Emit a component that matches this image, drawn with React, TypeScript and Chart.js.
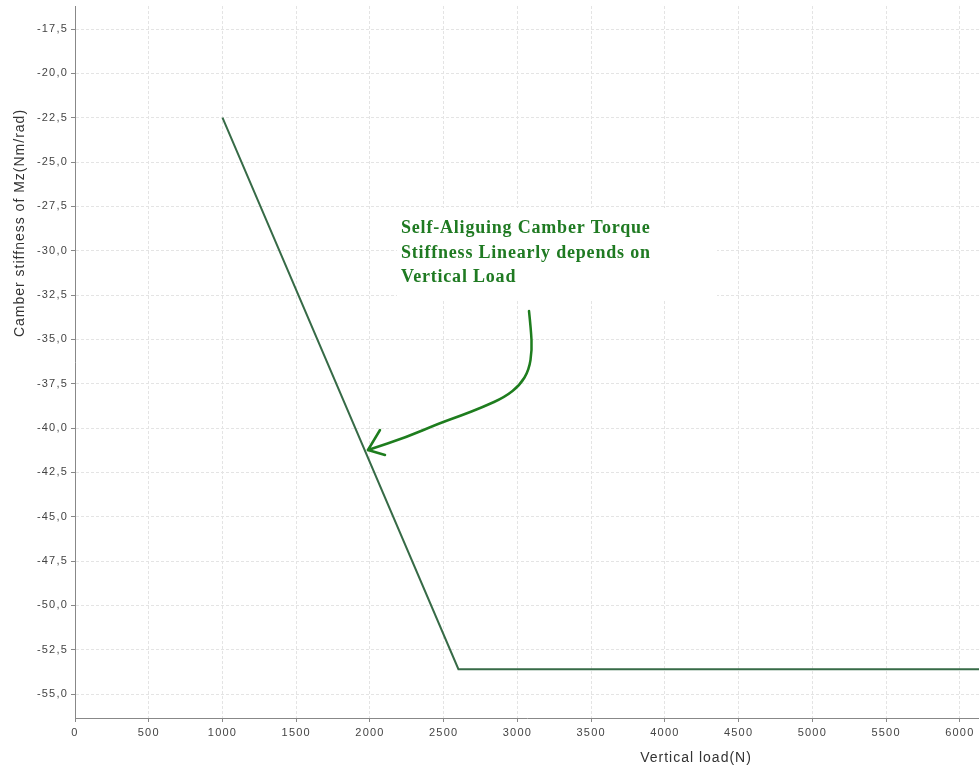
import React, { useEffect, useRef } from "react";
import { Chart, registerables } from "chart.js";

Chart.register(...registerables);

// ---- data ----
const loadValues = [1000, 2600, 6200];
const stiffnessValues = [-22.5, -53.6, -53.6];
const xTicks = [0, 500, 1000, 1500, 2000, 2500, 3000, 3500, 4000, 4500, 5000, 5500, 6000];
const yTicks = [-55, -52.5, -50, -47.5, -45, -42.5, -40, -37.5, -35, -32.5, -30, -27.5, -25, -22.5, -20, -17.5];
const noteLines = [
  "Self-Aliguing Camber Torque",
  "Stiffness Linearly depends on",
  "Vertical Load",
];
const xTitle = "Vertical load(N)";
const yTitle = "Camber stiffness of Mz(Nm/rad)";

const spacingPlugin = {
  id: "spacing",
  beforeDraw(chart: any) {
    chart.ctx.letterSpacing = "1.2px";
  },
};

const annotationPlugin = {
  id: "annot",
  afterDatasetsDraw(chart: any) {
    const { ctx, chartArea } = chart;
    const L = chartArea.left;
    const T = chartArea.top;
    ctx.save();
    // white box behind note
    ctx.fillStyle = "#ffffff";
    ctx.fillRect(L + 322, T + 202, 320, 92);
    // text
    ctx.fillStyle = "#1f7a22";
    ctx.font = "bold 18px 'Liberation Serif', 'Times New Roman', serif";
    ctx.letterSpacing = "0.8px";
    ctx.textBaseline = "alphabetic";
    ctx.textAlign = "left";
    const baselines = [227, 252, 276];
    noteLines.forEach((t, i) => ctx.fillText(t, L + 326, T + baselines[i]));
    // hand-drawn arrow
    const pts = [
      [529, 311], [531, 330], [532, 350], [529, 370], [520, 385], [505, 397],
      [483, 407], [460, 416], [440, 423], [407, 437], [368, 450],
    ].map(([x, y]) => [x - 75 + L, y - 6 + T]);
    ctx.strokeStyle = "#1e7d1e";
    ctx.lineWidth = 2.5;
    ctx.lineCap = "round";
    ctx.lineJoin = "round";
    ctx.beginPath();
    ctx.moveTo(pts[0][0], pts[0][1]);
    for (let i = 1; i < pts.length - 1; i++) {
      const mx = (pts[i][0] + pts[i + 1][0]) / 2;
      const my = (pts[i][1] + pts[i + 1][1]) / 2;
      ctx.quadraticCurveTo(pts[i][0], pts[i][1], mx, my);
    }
    ctx.lineTo(pts[pts.length - 1][0], pts[pts.length - 1][1]);
    ctx.stroke();
    const tip = pts[pts.length - 1];
    ctx.beginPath();
    ctx.moveTo(380 - 75 + L, 430 - 6 + T);
    ctx.lineTo(tip[0], tip[1]);
    ctx.lineTo(385 - 75 + L, 455 - 6 + T);
    ctx.stroke();
    // axis titles
    ctx.fillStyle = "#333333";
    ctx.font = "14px 'Liberation Sans', Arial, sans-serif";
    ctx.letterSpacing = "1px";
    ctx.textAlign = "center";
    ctx.textBaseline = "middle";
    ctx.fillText(xTitle, 696, 758);
    ctx.translate(20, 223);
    ctx.rotate(-Math.PI / 2);
    ctx.fillText(yTitle, 0, 0);
    ctx.restore();
  },
};

export default function App() {
  const ref = useRef<HTMLCanvasElement>(null);
  useEffect(() => {
    document.body.style.margin = "0";
    const fmt = (v: number) => v.toFixed(1).replace(".", ",");
    const chart = new Chart(ref.current as HTMLCanvasElement, {
      type: "scatter",
      data: {
        datasets: [
          {
            data: loadValues.map((x, i) => ({ x, y: stiffnessValues[i] })),
            showLine: true,
            borderColor: "#376b47",
            borderWidth: 2,
            pointRadius: 0,
            fill: false,
          },
        ],
      },
      options: {
        responsive: false,
        animation: false,
        layout: { padding: { top: 6, right: 0, left: 0, bottom: 0 } },
        plugins: { legend: { display: false }, tooltip: { enabled: false } },
        scales: {
          x: {
            type: "linear",
            min: 0,
            max: 6130,
            afterBuildTicks: (s: any) => {
              s.ticks = xTicks.map((v) => ({ value: v }));
            },
            afterFit: (s: any) => {
              s.height = 52;
              s.paddingLeft = 0;
              s.paddingRight = 0;
            },
            ticks: {
              color: "#444",
              font: { size: 11, family: "'Liberation Sans', Arial, sans-serif" },
              padding: 4,
              maxRotation: 0,
              autoSkip: false,
              callback: (v: any) => String(v),
            },
            grid: { color: "#e4e4e4", tickColor: "#888", tickLength: 4 },
            border: { color: "#888", width: 1, dash: [3, 2] },
          },
          y: {
            type: "linear",
            min: -56.35,
            max: -16.2,
            afterBuildTicks: (s: any) => {
              s.ticks = yTicks.map((v) => ({ value: v }));
            },
            afterFit: (s: any) => {
              s.width = 75;
              s.paddingTop = 0;
              s.paddingBottom = 0;
            },
            ticks: {
              color: "#444",
              font: { size: 11, family: "'Liberation Sans', Arial, sans-serif" },
              padding: 3,
              autoSkip: false,
              callback: (v: any) => fmt(Number(v)),
            },
            grid: { color: "#e4e4e4", tickColor: "#888", tickLength: 4 },
            border: { color: "#888", width: 1, dash: [3, 2] },
          },
        },
      },
      plugins: [spacingPlugin, annotationPlugin],
    } as any);
    return () => chart.destroy();
  }, []);
  return (
    <div style={{ width: 979, height: 770, overflow: "hidden", background: "#fff" }}>
      <canvas ref={ref} width={979} height={770} />
    </div>
  );
}
